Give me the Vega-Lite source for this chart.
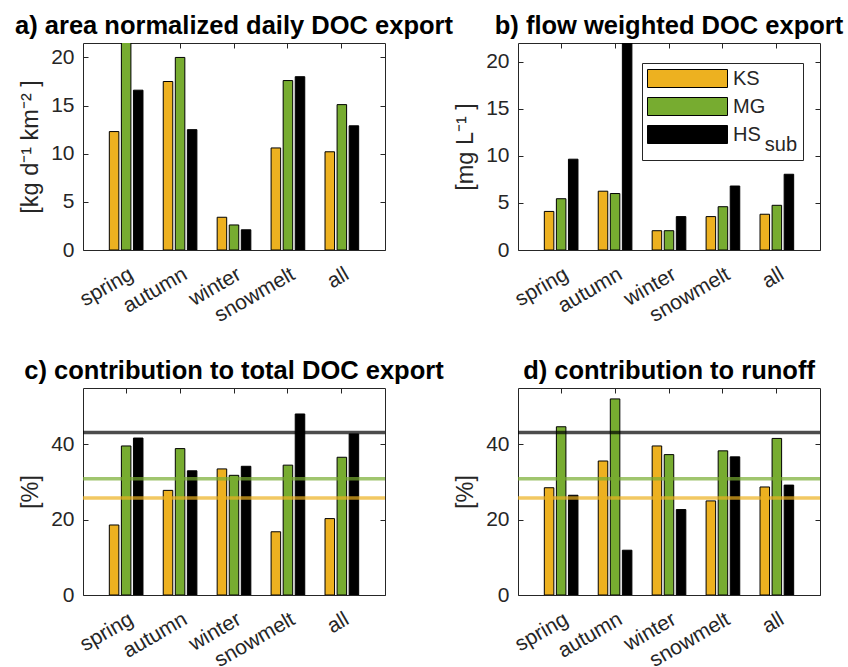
{
  "$schema": "https://vega.github.io/schema/vega-lite/v6.json",
  "padding": {"left": 14, "top": 13, "right": 5, "bottom": 5},
  "background": "white",
  "config": {
    "font": "Liberation Sans",
    "view": {"stroke": "#262626", "strokeWidth": 1},
    "title": {"fontSize": 25.5, "fontWeight": "bold", "color": "black", "font": "Liberation Sans", "offset": 3, "anchor": "middle"},
    "axis": {
      "labelFont": "Liberation Sans", "labelFontSize": 21, "labelColor": "#262626",
      "titleFont": "Liberation Sans", "titleFontSize": 23.5, "titleColor": "#262626", "titleFontWeight": "normal",
      "domain": false, "grid": false, "tickColor": "#262626", "tickSize": -5, "labelPadding": 14
    },
    "axisY": {"titlePadding": 8},
    "axisX": {"labelAngle": -30, "labelAlign": "right", "labelBaseline": "top", "labelPadding": 18}
  },
  "datasets": {
    "bars": [
      {"p": "a", "season": "spring", "site": "KS", "v": 12.3},
      {"p": "a", "season": "spring", "site": "MG", "v": 22.5},
      {"p": "a", "season": "spring", "site": "HS", "v": 16.6},
      {"p": "a", "season": "autumn", "site": "KS", "v": 17.5},
      {"p": "a", "season": "autumn", "site": "MG", "v": 20.0},
      {"p": "a", "season": "autumn", "site": "HS", "v": 12.5},
      {"p": "a", "season": "winter", "site": "KS", "v": 3.4},
      {"p": "a", "season": "winter", "site": "MG", "v": 2.6},
      {"p": "a", "season": "winter", "site": "HS", "v": 2.1},
      {"p": "a", "season": "snowmelt", "site": "KS", "v": 10.6},
      {"p": "a", "season": "snowmelt", "site": "MG", "v": 17.6},
      {"p": "a", "season": "snowmelt", "site": "HS", "v": 18.0},
      {"p": "a", "season": "all", "site": "KS", "v": 10.2},
      {"p": "a", "season": "all", "site": "MG", "v": 15.1},
      {"p": "a", "season": "all", "site": "HS", "v": 12.9},
      {"p": "b", "season": "spring", "site": "KS", "v": 4.1},
      {"p": "b", "season": "spring", "site": "MG", "v": 5.45},
      {"p": "b", "season": "spring", "site": "HS", "v": 9.65},
      {"p": "b", "season": "autumn", "site": "KS", "v": 6.25},
      {"p": "b", "season": "autumn", "site": "MG", "v": 6.0},
      {"p": "b", "season": "autumn", "site": "HS", "v": 25.0},
      {"p": "b", "season": "winter", "site": "KS", "v": 2.05},
      {"p": "b", "season": "winter", "site": "MG", "v": 2.05},
      {"p": "b", "season": "winter", "site": "HS", "v": 3.55},
      {"p": "b", "season": "snowmelt", "site": "KS", "v": 3.55},
      {"p": "b", "season": "snowmelt", "site": "MG", "v": 4.6},
      {"p": "b", "season": "snowmelt", "site": "HS", "v": 6.8},
      {"p": "b", "season": "all", "site": "KS", "v": 3.8},
      {"p": "b", "season": "all", "site": "MG", "v": 4.75},
      {"p": "b", "season": "all", "site": "HS", "v": 8.05},
      {"p": "c", "season": "spring", "site": "KS", "v": 18.6},
      {"p": "c", "season": "spring", "site": "MG", "v": 39.6},
      {"p": "c", "season": "spring", "site": "HS", "v": 41.7},
      {"p": "c", "season": "autumn", "site": "KS", "v": 27.8},
      {"p": "c", "season": "autumn", "site": "MG", "v": 38.9},
      {"p": "c", "season": "autumn", "site": "HS", "v": 33.0},
      {"p": "c", "season": "winter", "site": "KS", "v": 33.5},
      {"p": "c", "season": "winter", "site": "MG", "v": 31.8},
      {"p": "c", "season": "winter", "site": "HS", "v": 34.2},
      {"p": "c", "season": "snowmelt", "site": "KS", "v": 16.8},
      {"p": "c", "season": "snowmelt", "site": "MG", "v": 34.5},
      {"p": "c", "season": "snowmelt", "site": "HS", "v": 48.1},
      {"p": "c", "season": "all", "site": "KS", "v": 20.3},
      {"p": "c", "season": "all", "site": "MG", "v": 36.6},
      {"p": "c", "season": "all", "site": "HS", "v": 42.8},
      {"p": "d", "season": "spring", "site": "KS", "v": 28.5},
      {"p": "d", "season": "spring", "site": "MG", "v": 44.7},
      {"p": "d", "season": "spring", "site": "HS", "v": 26.5},
      {"p": "d", "season": "autumn", "site": "KS", "v": 35.6},
      {"p": "d", "season": "autumn", "site": "MG", "v": 52.1},
      {"p": "d", "season": "autumn", "site": "HS", "v": 11.9},
      {"p": "d", "season": "winter", "site": "KS", "v": 39.6},
      {"p": "d", "season": "winter", "site": "MG", "v": 37.3},
      {"p": "d", "season": "winter", "site": "HS", "v": 22.7},
      {"p": "d", "season": "snowmelt", "site": "KS", "v": 25.0},
      {"p": "d", "season": "snowmelt", "site": "MG", "v": 38.3},
      {"p": "d", "season": "snowmelt", "site": "HS", "v": 36.7},
      {"p": "d", "season": "all", "site": "KS", "v": 28.7},
      {"p": "d", "season": "all", "site": "MG", "v": 41.6},
      {"p": "d", "season": "all", "site": "HS", "v": 29.2}
    ],
    "lines": [
      {"site": "KS", "v": 25.8},
      {"site": "MG", "v": 30.9},
      {"site": "HS", "v": 43.2}
    ]
  },
  "bounds": "flush",
  "columns": 2,
  "spacing": {"row": 138, "column": 133},
  "resolve": {"scale": {"color": "independent"}, "legend": {"color": "independent"}},
  "concat": [
    {
      "title": "a) area normalized daily DOC export",
      "width": 302, "height": 207,
      "resolve": {"axis": {"x": "independent", "y": "independent"}},
      "layer": [
        {
          "data": {"name": "bars"},
          "transform": [{"filter": "datum.p == 'a'"}],
          "mark": {"type": "bar", "stroke": "black", "strokeWidth": 1, "clip": true},
          "encoding": {
            "x": {"field": "season", "type": "nominal", "sort": ["spring", "autumn", "winter", "snowmelt", "all"], "scale": {"paddingInner": 0, "paddingOuter": 0.3}, "title": null},
            "xOffset": {"field": "site", "sort": ["KS", "MG", "HS"], "scale": {"paddingInner": 0.21, "paddingOuter": 0.84}},
            "y": {"field": "v", "type": "quantitative", "scale": {"domain": [0, 21.5], "nice": false}, "axis": {"values": [0, 5, 10, 15, 20]}, "title": "[kg d⁻¹ km⁻² ]"},
            "color": {"field": "site", "type": "nominal", "scale": {"domain": ["KS", "MG", "HS"], "range": ["#EDB120", "#77AC30", "#000000"]}, "legend": null}
          }
        },
        {
          "data": {"name": "bars"},
          "transform": [{"filter": "datum.p == 'a'"}],
          "mark": {"type": "bar", "opacity": 0, "clip": true},
          "encoding": {
            "x": {"field": "season", "type": "nominal", "sort": ["spring", "autumn", "winter", "snowmelt", "all"], "axis": {"orient": "top", "labels": false, "title": null}},
            "y": {"field": "v", "type": "quantitative", "axis": {"orient": "right", "labels": false, "title": null, "values": [0, 5, 10, 15, 20]}}
          }
        }
      ]
    },
    {
      "title": "b) flow weighted DOC export",
      "width": 302, "height": 207,
      "resolve": {"axis": {"x": "independent", "y": "independent"}},
      "layer": [
        {
          "data": {"name": "bars"},
          "transform": [{"filter": "datum.p == 'b'"}],
          "mark": {"type": "bar", "stroke": "black", "strokeWidth": 1, "clip": true},
          "encoding": {
            "x": {"field": "season", "type": "nominal", "sort": ["spring", "autumn", "winter", "snowmelt", "all"], "scale": {"paddingInner": 0, "paddingOuter": 0.3}, "title": null},
            "xOffset": {"field": "site", "sort": ["KS", "MG", "HS"], "scale": {"paddingInner": 0.21, "paddingOuter": 0.84}},
            "y": {"field": "v", "type": "quantitative", "scale": {"domain": [0, 22], "nice": false}, "axis": {"values": [0, 5, 10, 15, 20]}, "title": "[mg L⁻¹ ]"},
            "color": {"field": "site", "type": "nominal", "scale": {"domain": ["KS", "MG", "HS"], "range": ["#EDB120", "#77AC30", "#000000"]},
              "legend": {"title": null, "orient": "none", "legendX": 124, "legendY": 20, "direction": "vertical",
                "symbolType": "M-1,-0.9H7V0.9H-1Z", "symbolSize": 400, "symbolStrokeColor": "black", "symbolStrokeWidth": 1, "symbolOpacity": 1,
                "labelFont": "Liberation Sans", "labelFontSize": 20, "labelColor": "#262626", "labelOffset": 65,
                "strokeColor": "#262626", "fillColor": "white", "padding": 5, "rowPadding": 5,
                "labelExpr": "datum.label == 'HS' ? ['HS', '\u200b\u00a0\u00a0\u00a0\u00a0\u00a0\u2009sub'] : datum.label",
                "encoding": {"labels": {"lineHeight": {"value": 10}}}}}
          }
        },
        {
          "data": {"name": "bars"},
          "transform": [{"filter": "datum.p == 'b'"}],
          "mark": {"type": "bar", "opacity": 0, "clip": true},
          "encoding": {
            "x": {"field": "season", "type": "nominal", "sort": ["spring", "autumn", "winter", "snowmelt", "all"], "axis": {"orient": "top", "labels": false, "title": null}},
            "y": {"field": "v", "type": "quantitative", "axis": {"orient": "right", "labels": false, "title": null, "values": [0, 5, 10, 15, 20]}}
          }
        }
      ]
    },
    {
      "title": "c) contribution to total DOC export",
      "width": 302, "height": 207,
      "resolve": {"axis": {"x": "independent", "y": "independent"}},
      "layer": [
        {
          "data": {"name": "bars"},
          "transform": [{"filter": "datum.p == 'c'"}],
          "mark": {"type": "bar", "stroke": "black", "strokeWidth": 1, "clip": true},
          "encoding": {
            "x": {"field": "season", "type": "nominal", "sort": ["spring", "autumn", "winter", "snowmelt", "all"], "scale": {"paddingInner": 0, "paddingOuter": 0.3}, "title": null},
            "xOffset": {"field": "site", "sort": ["KS", "MG", "HS"], "scale": {"paddingInner": 0.21, "paddingOuter": 0.84}},
            "y": {"field": "v", "type": "quantitative", "scale": {"domain": [0, 55], "nice": false}, "axis": {"values": [0, 20, 40]}, "title": "[%]"},
            "color": {"field": "site", "type": "nominal", "scale": {"domain": ["KS", "MG", "HS"], "range": ["#EDB120", "#77AC30", "#000000"]}, "legend": null}
          }
        },
        {
          "data": {"name": "lines"},
          "mark": {"type": "rule", "strokeWidth": 3.5, "opacity": 0.7},
          "encoding": {
            "y": {"field": "v", "type": "quantitative", "axis": {"orient": "right", "labels": false, "title": null, "values": [0, 20, 40]}},
            "color": {"field": "site", "type": "nominal", "legend": null}
          }
        },
        {
          "data": {"name": "bars"},
          "transform": [{"filter": "datum.p == 'c'"}],
          "mark": {"type": "bar", "opacity": 0, "clip": true},
          "encoding": {
            "x": {"field": "season", "type": "nominal", "sort": ["spring", "autumn", "winter", "snowmelt", "all"], "axis": {"orient": "top", "labels": false, "title": null}},
            "y": {"field": "v", "type": "quantitative", "axis": null}
          }
        }
      ]
    },
    {
      "title": "d) contribution to runoff",
      "width": 302, "height": 207,
      "resolve": {"axis": {"x": "independent", "y": "independent"}},
      "layer": [
        {
          "data": {"name": "bars"},
          "transform": [{"filter": "datum.p == 'd'"}],
          "mark": {"type": "bar", "stroke": "black", "strokeWidth": 1, "clip": true},
          "encoding": {
            "x": {"field": "season", "type": "nominal", "sort": ["spring", "autumn", "winter", "snowmelt", "all"], "scale": {"paddingInner": 0, "paddingOuter": 0.3}, "title": null},
            "xOffset": {"field": "site", "sort": ["KS", "MG", "HS"], "scale": {"paddingInner": 0.21, "paddingOuter": 0.84}},
            "y": {"field": "v", "type": "quantitative", "scale": {"domain": [0, 55], "nice": false}, "axis": {"values": [0, 20, 40]}, "title": "[%]"},
            "color": {"field": "site", "type": "nominal", "scale": {"domain": ["KS", "MG", "HS"], "range": ["#EDB120", "#77AC30", "#000000"]}, "legend": null}
          }
        },
        {
          "data": {"name": "lines"},
          "mark": {"type": "rule", "strokeWidth": 3.5, "opacity": 0.7},
          "encoding": {
            "y": {"field": "v", "type": "quantitative", "axis": {"orient": "right", "labels": false, "title": null, "values": [0, 20, 40]}},
            "color": {"field": "site", "type": "nominal", "legend": null}
          }
        },
        {
          "data": {"name": "bars"},
          "transform": [{"filter": "datum.p == 'd'"}],
          "mark": {"type": "bar", "opacity": 0, "clip": true},
          "encoding": {
            "x": {"field": "season", "type": "nominal", "sort": ["spring", "autumn", "winter", "snowmelt", "all"], "axis": {"orient": "top", "labels": false, "title": null}},
            "y": {"field": "v", "type": "quantitative", "axis": null}
          }
        }
      ]
    }
  ]
}
